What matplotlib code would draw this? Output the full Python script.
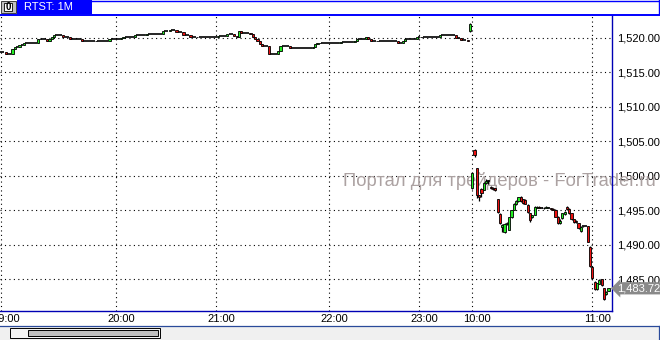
import numpy as np
import matplotlib
matplotlib.use('Agg')
import matplotlib.pyplot as plt
from matplotlib.patches import Rectangle
from matplotlib.lines import Line2D
from matplotlib.transforms import blended_transform_factory, ScaledTranslation

plt.rcParams['font.family'] = ['Liberation Sans', 'DejaVu Sans']

W, H = 660, 340

# evening session: flat closes, as (level, number of bars)
eve_level = [1517.97, 1517.68, 1518.40, 1518.70, 1519.03, 1519.30, 1519.86, 1519.80,
             1519.60, 1519.80, 1520.20, 1520.48, 1520.10, 1519.80, 1519.52, 1519.60,
             1519.80, 1520.00, 1520.20, 1520.48, 1520.58, 1520.97, 1521.16, 1520.83,
             1520.48, 1520.19, 1520.10, 1520.33, 1520.58, 1520.33, 1520.14, 1520.97,
             1520.77, 1520.58, 1520.20, 1519.86, 1519.60, 1519.13, 1518.88, 1517.68,
             1518.07, 1518.88, 1518.50, 1518.74, 1519.13, 1519.23, 1519.28, 1519.38,
             1519.60, 1519.80, 1520.10, 1519.86, 1519.60, 1519.52, 1519.23, 1519.57,
             1519.80, 1520.10, 1520.19, 1520.39, 1520.00, 1519.71, 1519.60]
eve_count = [2, 3, 1, 2, 2, 6, 1, 3, 1, 1, 1, 4, 3, 5, 6, 6, 5, 1, 5, 5, 7, 3, 3, 3,
             3, 3, 9, 4, 3, 1, 1, 1, 4, 1, 1, 1, 1, 1, 3, 4, 1, 4, 10, 1, 1, 1, 9, 6,
             1, 4, 1, 1, 3, 9, 2, 1, 5, 2, 8, 7, 2, 3, 1]

# morning session candles
m_open = [1521.0, 1498.2, 1503.7, 1501.1, 1497.25, 1498.1, 1498.0, 1499.0, 1499.2, 1498.45,
          1498.3, 1498.2, 1496.6, 1494.5, 1492.6, 1491.9, 1493.0, 1492.2, 1494.0, 1495.07,
          1495.9, 1496.4, 1496.9, 1496.6, 1496.5, 1495.8, 1494.6, 1494.0, 1494.35, 1495.4,
          1495.5, 1495.4, 1495.4, 1495.4, 1495.4, 1495.3, 1495.2, 1495.1, 1494.1, 1493.15,
          1493.9, 1494.5, 1495.45, 1495.2, 1494.6, 1493.7, 1493.5, 1493.15, 1492.0, 1492.75,
          1492.75, 1492.75, 1489.75, 1486.86, 1484.7, 1483.6, 1484.35, 1485.0, 1483.72, 1482.9,
          1483.4]
m_high = [1522.1, 1500.6, 1503.9, 1501.2, 1497.3, 1498.3, 1499.1, 1499.5, 1499.4, 1498.5,
          1498.35, 1498.25, 1496.7, 1494.6, 1493.0, 1493.2, 1493.3, 1494.1, 1495.1, 1496.1,
          1496.5, 1497.0, 1497.1, 1496.7, 1496.6, 1495.9, 1494.7, 1494.4, 1495.6, 1495.6,
          1495.6, 1495.5, 1495.5, 1495.6, 1495.5, 1495.4, 1495.3, 1495.2, 1494.2, 1493.7,
          1494.7, 1494.9, 1495.6, 1495.3, 1494.7, 1493.8, 1493.6, 1493.2, 1492.8, 1492.8,
          1492.8, 1492.8, 1489.8, 1486.9, 1484.8, 1484.5, 1485.0, 1485.05, 1483.8, 1483.3,
          1483.8]
m_low = [1520.9, 1498.1, 1502.7, 1496.8, 1496.4, 1496.9, 1497.9, 1498.9, 1498.9, 1498.1,
         1498.0, 1497.8, 1494.7, 1493.1, 1491.9, 1491.8, 1492.9, 1492.1, 1493.9, 1495.0,
         1495.8, 1496.3, 1496.3, 1496.0, 1495.9, 1494.7, 1493.4, 1493.9, 1494.3, 1495.3,
         1495.3, 1495.3, 1495.2, 1495.3, 1495.3, 1495.1, 1495.0, 1494.0, 1493.0, 1493.1,
         1493.8, 1494.4, 1495.1, 1494.5, 1493.6, 1493.2, 1493.2, 1492.3, 1491.9, 1492.6,
         1492.7, 1490.4, 1486.8, 1485.1, 1483.5, 1483.5, 1484.3, 1484.1, 1482.0, 1482.8,
         1483.3]
m_close = [1522.0, 1500.5, 1503.0, 1497.25, 1496.9, 1497.6, 1499.0, 1499.2, 1499.2, 1498.2,
           1498.1, 1497.9, 1494.8, 1493.2, 1492.9, 1493.1, 1493.2, 1494.0, 1495.07, 1496.0,
           1496.4, 1496.9, 1496.4, 1496.1, 1496.0, 1494.8, 1493.6, 1494.35, 1495.55, 1495.55,
           1495.4, 1495.4, 1495.3, 1495.5, 1495.4, 1495.2, 1495.1, 1494.1, 1493.15, 1493.5,
           1494.6, 1494.8, 1495.2, 1494.6, 1493.7, 1493.3, 1493.3, 1492.4, 1492.65, 1492.75,
           1492.75, 1490.5, 1486.9, 1485.17, 1483.6, 1484.45, 1484.9, 1484.2, 1482.1, 1483.2,
           1483.72]

tick_bars = [0, 50, 93, 142, 181, 204, 256]
tick_labels = ['19:00', '20:00', '21:00', '22:00', '23:00', '10:00', '11:00']
price_ticks = [1485, 1490, 1495, 1500, 1505, 1510, 1515, 1520]

# build ohlc for all bars
e_close = np.repeat(eve_level, eve_count)
e_open = np.r_[e_close[0], e_close[:-1]]
opens = np.r_[e_open, m_open]
closes = np.r_[e_close, m_close]
highs = np.r_[np.maximum(e_open, e_close), m_high]
lows = np.r_[np.minimum(e_open, e_close), m_low]
x = np.arange(len(closes))

fig = plt.figure(figsize=(W / 100, H / 100), dpi=100)
fig.patch.set_facecolor('white')

def fx(px):
    return px / W

def fy(py):
    return 1 - py / H

def px_rect(x0, y0, x1, y1, **kw):
    r = Rectangle((fx(x0), fy(y1)), fx(x1) - fx(x0), fy(y0) - fy(y1),
                  transform=fig.transFigure, **kw)
    fig.add_artist(r)

def px_line(x0, y0, x1, y1, **kw):
    fig.add_artist(Line2D([fx(x0), fx(x1)], [fy(y0), fy(y1)], transform=fig.transFigure, **kw))

ax = fig.add_axes([0, fy(311), fx(612), fy(15) - fy(311)])
ax.set_facecolor('white')

# candles
doji = np.abs(closes - opens) < 0.02
up = closes > opens
nd = ~doji
ax.vlines(x[nd], lows[nd], highs[nd], color='black', lw=0.9, zorder=3)
ax.hlines(closes[doji], x[doji] - 0.5, x[doji] + 0.5, color='black', lw=1.2, zorder=3)
ax.vlines(x[doji], lows[doji], highs[doji], color='black', lw=0.9, zorder=3)
body_col = np.where(up, '#22ee22', '#ee1111')
ax.bar(x[nd], (closes - opens)[nd], bottom=opens[nd], width=0.95,
       color=body_col[nd], edgecolor='black', linewidth=0.6, zorder=4)

ax.set_xlim(-0.43, 264.5)
ax.set_ylim(1480.43, 1523.33)

ax.set_xticks(tick_bars)
ax.set_xticklabels(tick_labels)
ax.set_yticks(price_ticks)
ax.set_yticklabels([f'{p:,.2f}' for p in price_ticks])
ax.yaxis.tick_right()
ax.tick_params(axis='both', length=0, labelsize=8, colors='black')
ax.tick_params(axis='y', pad=3.5)
ax.tick_params(axis='x', pad=2.5)
for lab in ax.get_xticklabels():
    lab.set_transform(lab.get_transform() + ScaledTranslation(5 / 100, 0, fig.dpi_scale_trans))

ax.grid(True, color='black', linestyle=(0, (1, 3)), linewidth=0.8)
ax.set_axisbelow(True)
for s in ['top', 'left']:
    ax.spines[s].set_visible(False)
for s in ['right', 'bottom']:
    ax.spines[s].set_color('#0000b4')
    ax.spines[s].set_linewidth(1.0)

# watermark
ax.text(fx(343), fy(181), 'Портал для трейдеров - ForTrader.ru', transform=fig.transFigure,
        fontsize=13.2, color='#aca2a2', ha='left', va='center', zorder=2, clip_on=False)

# last price tag
bt = blended_transform_factory(ax.transAxes, ax.transData)
ax.annotate(f'{closes[-1]:,.2f}', xy=(1, closes[-1]), xycoords=bt, xytext=(4, 0),
            textcoords='offset points', ha='left', va='center', color='white', fontsize=8,
            bbox=dict(boxstyle='larrow,pad=0.1', fc='#8a8a8a', ec='none'),
            annotation_clip=False, zorder=6)

# header strip
px_line(92, 0.5, 660, 0.5, color='#0000ff', lw=1.0)
px_line(659, 0, 659, 14, color='#0000ff', lw=1.0)
px_rect(17, 0, 92, 14, fc='#0000ff', ec='none')
px_rect(1, 1, 16, 13, fc='#c0c0c0', ec='#404040', lw=0.7)
px_rect(4, 3, 12, 11, fc='white', ec='black', lw=0.6)
fig.text(fx(8), fy(7), '0', fontsize=7, fontweight='bold', ha='center', va='center')
fig.text(fx(24), fy(7.5), 'RTST: 1M', fontsize=8, color='white', ha='left', va='center')
px_line(0, 14.5, 660, 14.5, color='#0000ff', lw=1.4)

# bottom scroll area
px_rect(0, 325.5, 660, 340, fc='#f0f0f0', ec='none')
px_line(0, 325.5, 660, 325.5, color='#2a4a9a', lw=0.9)
px_line(659, 325.5, 659, 340, color='#2a4a9a', lw=0.9)
px_rect(10, 327.5, 160, 337.5, fc='#f4f4f4', ec='black', lw=0.7)
px_rect(28, 329.5, 158, 335.5, fc='#c0c0c0', ec='black', lw=0.7)

fig.savefig('out.png', dpi=100)
